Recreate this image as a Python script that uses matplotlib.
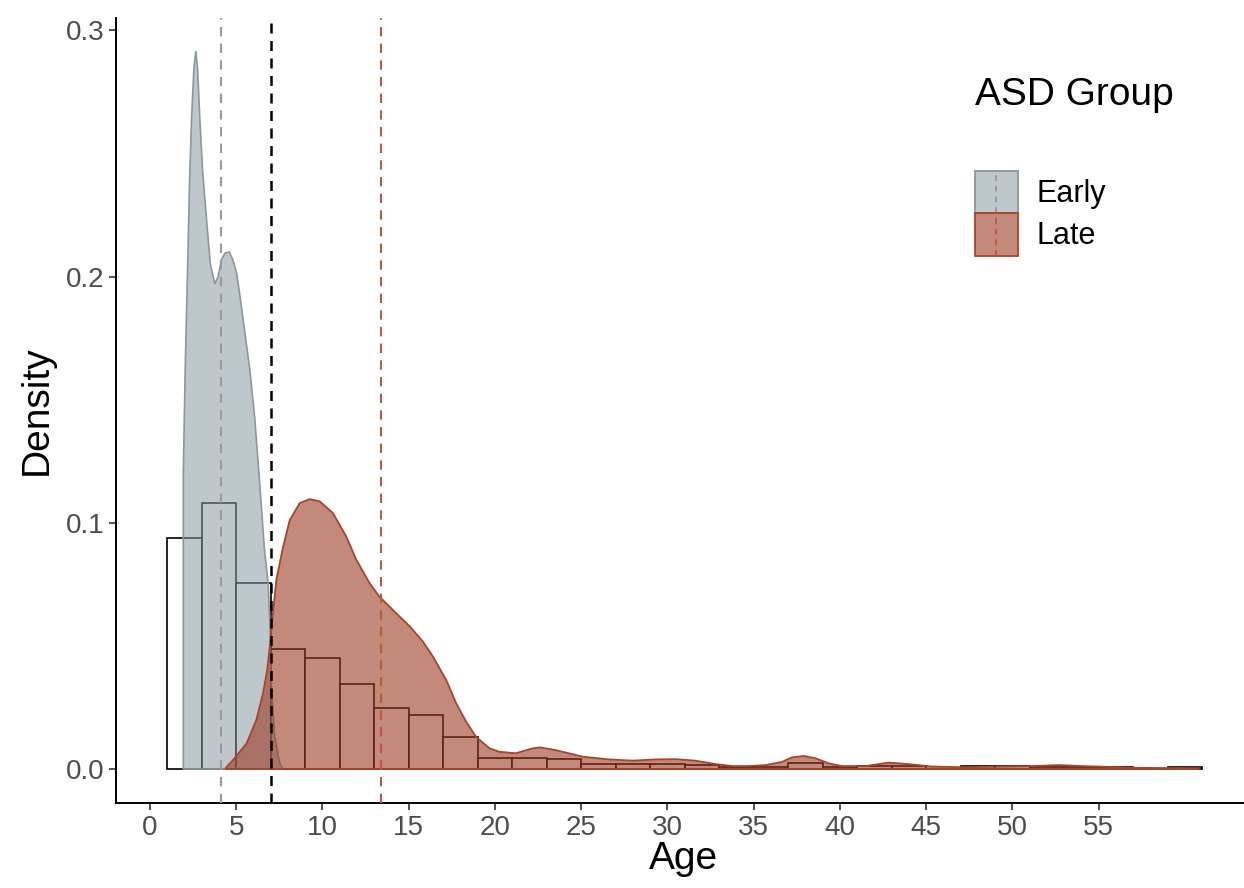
import matplotlib
matplotlib.use("Agg")
import matplotlib.pyplot as plt
from matplotlib.patches import Rectangle, Patch
from matplotlib.lines import Line2D

plt.rcParams['font.family'] = ['Liberation Sans', 'DejaVu Sans']

# histogram of all ages, bins of width 2 starting at 1 (density scale)
bin_left = list(range(1, 61, 2))
bin_density = [0.094, 0.108, 0.0754, 0.0488, 0.0451, 0.0346, 0.0248, 0.0221,
               0.0131, 0.0044, 0.0043, 0.0041, 0.0020, 0.0019, 0.0019, 0.0017,
               0.0007, 0.0007, 0.0026, 0.0010, 0.0013, 0.0013, 0.0, 0.0013,
               0.0013, 0.0007, 0.0007, 0.0007, 0.0, 0.0007]

# density curve, early group
early_age = [1.93, 1.93, 2.05, 2.16, 2.30, 2.41, 2.55, 2.66, 2.77, 2.89, 3.05,
             3.28, 3.50, 3.76, 3.95, 4.15, 4.35, 4.59, 4.80, 5.02, 5.20, 5.40,
             5.79, 6.08, 6.37, 6.65, 6.85, 6.94, 7.04, 7.23, 7.52, 7.70]
early_dens = [0.0, 0.12, 0.165, 0.197, 0.240, 0.264, 0.285, 0.2916, 0.283,
              0.264, 0.243, 0.223, 0.205, 0.197, 0.200, 0.207, 0.2095, 0.210,
              0.207, 0.2015, 0.193, 0.1825, 0.162, 0.142, 0.115, 0.088, 0.0754,
              0.0606, 0.0335, 0.013, 0.0024, 0.0]

# density curve, late group
late_age = [4.4, 4.82, 5.6, 6.17, 6.56, 6.79, 6.98, 7.09, 7.33, 7.71, 8.1,
            8.68, 9.26, 9.84, 10.6, 11.38, 11.96, 12.73, 13.3, 14.27, 15.05,
            15.82, 16.4, 17.17, 17.75, 18.33, 18.9, 19.68, 20.25, 21.2, 22.2,
            22.6, 23.5, 25.1, 26.6, 28.0, 29.3, 30.5, 31.6, 32.8, 33.75, 34.7,
            35.7, 36.65, 37.2, 37.9, 38.6, 39.35, 40.1, 41.5, 42.8, 44.0, 45.3,
            47.25, 49.2, 51.1, 52.7, 54.0, 55.0, 56.9, 58.8, 60.8]
late_dens = [0.0005, 0.0037, 0.0104, 0.02, 0.031, 0.040, 0.052, 0.0606, 0.077,
             0.090, 0.101, 0.108, 0.1096, 0.1087, 0.104, 0.0944, 0.085, 0.0755,
             0.070, 0.0633, 0.058, 0.0518, 0.0457, 0.0362, 0.0267, 0.0192,
             0.0131, 0.0084, 0.007, 0.0064, 0.0084, 0.0088, 0.0077, 0.005,
             0.0039, 0.0034, 0.0039, 0.004, 0.0034, 0.002, 0.0012, 0.0012,
             0.0016, 0.0029, 0.0047, 0.0053, 0.0043, 0.0023, 0.0012, 0.0012,
             0.0026, 0.002, 0.001, 0.0007, 0.001, 0.0012, 0.0016, 0.0012,
             0.001, 0.0005, 0.0004, 0.0003]

groups = ["Early", "Late"]
early_mean = 4.1
late_mean = 13.4
cutoff = 7.0

x_ticks = list(range(0, 60, 5))
y_ticks = [0.0, 0.1, 0.2, 0.3]

early_fill = (0.541, 0.608, 0.635, 0.55)
early_edge = "#8B979C"
late_fill = (0.612, 0.227, 0.133, 0.6)
late_edge = "#A9432B"


class KeyHandler:
    def __init__(self, face, edge, vcolor):
        self.face, self.edge, self.vcolor = face, edge, vcolor

    def legend_artist(self, legend, orig_handle, fontsize, handlebox):
        x0, y0 = handlebox.xdescent, handlebox.ydescent
        w, h = handlebox.width, handlebox.height
        tr = handlebox.get_transform()
        rect = Rectangle((-x0, -y0), w, h, facecolor=self.face,
                         edgecolor=self.edge, linewidth=1.3, transform=tr)
        line = Line2D([-x0 + w / 2] * 2, [-y0, -y0 + h], color=self.vcolor,
                      linewidth=1.4, linestyle=(0, (3, 2.5)), transform=tr)
        handlebox.add_artist(rect)
        handlebox.add_artist(line)
        return rect


fig = plt.figure(figsize=(12.44, 8.88), dpi=100)
ax = fig.add_axes([116 / 1244, 85 / 888, (1250 - 116) / 1244, (803 - 18) / 888])

ax.bar(bin_left, bin_density, width=2, align='edge', facecolor='white',
       edgecolor='black', linewidth=1.2, zorder=1)

ax.fill(early_age, early_dens, facecolor=early_fill, edgecolor=early_edge,
        linewidth=1.2, zorder=2)
late_x = [late_age[0]] + late_age + [late_age[-1]]
late_y = [0.0] + late_dens + [0.0]
ax.fill(late_x, late_y, facecolor=late_fill, edgecolor=late_edge,
        linewidth=1.3, zorder=3)

ax.axvline(early_mean, color="#9a9a9a", linewidth=1.5,
           linestyle=(0, (4.5, 3.5)), zorder=4)
ax.axvline(cutoff, color="black", linewidth=1.8,
           linestyle=(0, (4, 3)), zorder=4)
ax.axvline(late_mean, color="#BA5A43", linewidth=1.5,
           linestyle=(0, (4.5, 3.5)), zorder=4)

ax.set_xlim(-1.97, 63.77)
ax.set_ylim(-0.0138, 0.305)
ax.set_xticks(x_ticks)
ax.set_yticks(y_ticks)
ax.set_yticklabels([f"{v:.1f}" for v in y_ticks])
ax.tick_params(axis='both', labelsize=20, labelcolor="#4d4d4d", length=5,
               width=1.2, color="#333333")
for s in ['top', 'right']:
    ax.spines[s].set_visible(False)
for s in ['left', 'bottom']:
    ax.spines[s].set_linewidth(1.4)
ax.set_xlabel("Age", fontsize=28, labelpad=0)
ax.set_ylabel("Density", fontsize=28, labelpad=8)

fig.text(975 / 1244, 1 - 95 / 888, "ASD Group", fontsize=28, va='center',
         ha='left')
h_early = Patch(label=groups[0])
h_late = Patch(label=groups[1])
leg = fig.legend(handles=[h_early, h_late], labels=groups,
                 handler_map={h_early: KeyHandler(early_fill, early_edge, "#9a9a9a"),
                              h_late: KeyHandler(late_fill, late_edge, "#BA5A43")},
                 loc='upper left', bbox_to_anchor=(972 / 1244, 1 - 168 / 888),
                 frameon=False, fontsize=22, handlelength=1.4, handleheight=1.75,
                 labelspacing=0.0, handletextpad=0.6, borderpad=0.1,
                 borderaxespad=0)

fig.savefig("out.png", dpi=100)
